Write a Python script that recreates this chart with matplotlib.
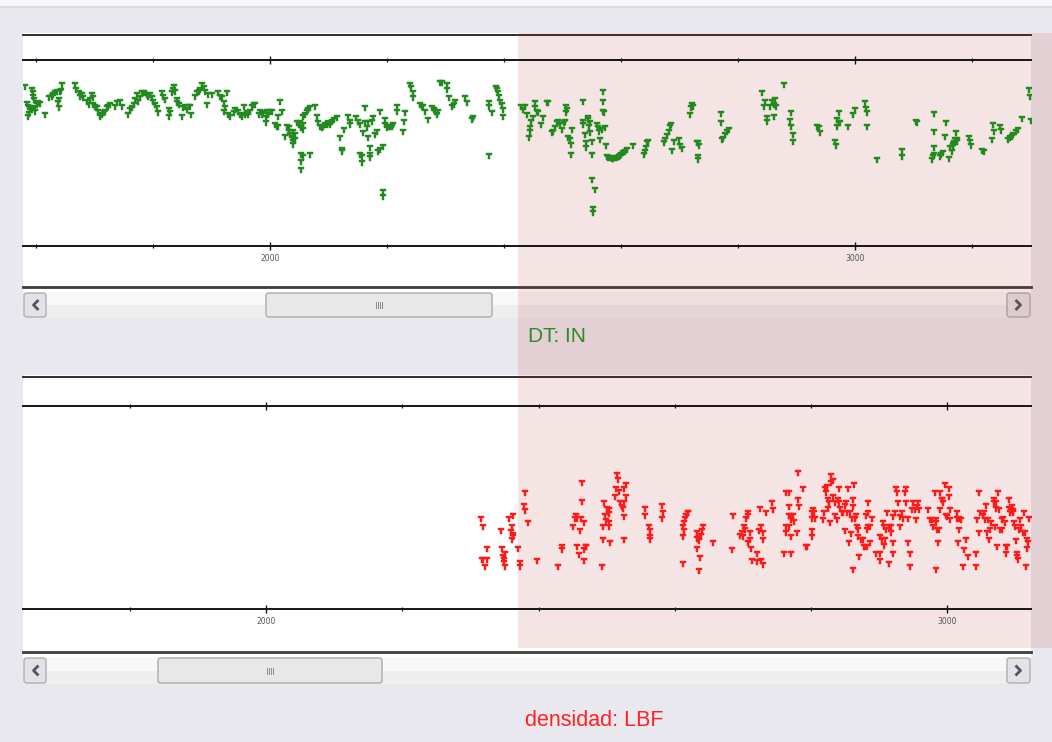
import matplotlib
matplotlib.use("Agg")
import matplotlib.pyplot as plt
from matplotlib.path import Path
from matplotlib.patches import Rectangle, FancyBboxPatch
from matplotlib.lines import Line2D
from matplotlib.ticker import MultipleLocator, NullFormatter, FormatStrFormatter

# ---------------- data ----------------
# upper track: DT vs depth
dt_depth = [
    1582, 1593, 1595, 1595, 1596, 1584, 1587, 1590, 1586, 1589,
    1593, 1599, 1602, 1604, 1607, 1599, 1616, 1623, 1627, 1630,
    1633, 1636, 1639, 1641, 1644, 1643, 1639, 1637, 1667, 1669,
    1673, 1676, 1678, 1681, 1687, 1690, 1693, 1696, 1697, 1698,
    1701, 1704, 1707, 1710, 1713, 1716, 1718, 1721, 1724, 1727,
    1735, 1738, 1744, 1747, 1758, 1761, 1764, 1767, 1770, 1773,
    1775, 1778, 1781, 1784, 1790, 1792, 1795, 1798, 1801, 1804,
    1807, 1808, 1815, 1818, 1821, 1827, 1830, 1828, 1832, 1835,
    1836, 1838, 1841, 1842, 1844, 1849, 1852, 1855, 1858, 1861,
    1864, 1865, 1872, 1875, 1878, 1881, 1884, 1887, 1889, 1892,
    1895, 1901, 1912, 1915, 1918, 1921, 1924, 1926, 1921, 1929,
    1932, 1938, 1941, 1946, 1949, 1952, 1955, 1958, 1961, 1963,
    1966, 1969, 1972, 1975, 1981,
    1983, 1986, 1989, 1995, 1993, 1993, 1997, 2000, 2003, 2009,
    2012, 2014, 2014, 2018, 2020, 2026, 2029, 2032, 2033, 2034,
    2037, 2039, 2040, 2043, 2043, 2040, 2046, 2049, 2052, 2054,
    2057, 2057, 2057, 2060, 2063, 2066, 2069, 2054, 2054, 2054,
    2057, 2069, 2077, 2080, 2083, 2086, 2089, 2091, 2094, 2097,
    2100, 2103, 2106, 2109, 2114, 2120, 2123, 2124, 2126, 2134,
    2137, 2137, 2148, 2151, 2154, 2154, 2157, 2157, 2160, 2163,
    2163, 2166, 2168, 2168, 2171, 2171, 2171, 2174, 2177, 2180,
    2183, 2185, 2188, 2188, 2193, 2194, 2194, 2197, 2197, 2200,
    2203, 2205, 2208, 2211, 2217, 2217, 2227, 2229, 2231, 2240,
    2242, 2244, 2245, 2257, 2260, 2262, 2265, 2271, 2277, 2280,
    2282, 2285, 2288, 2291, 2294, 2302, 2302, 2307, 2311, 2314,
    2317, 2334, 2337, 2345, 2348,
    2375, 2375, 2380, 2375, 2386, 2389, 2390, 2392, 2394, 2396,
    2398, 2399, 2430, 2433, 2436, 2439, 2445, 2445, 2443, 2447,
    2450, 2453, 2453, 2456, 2459, 2464, 2467, 2473, 2476, 2482,
    2484, 2487, 2490, 2493, 2496, 2499, 2502, 2504, 2506, 2507,
    2508, 2510, 2513, 2514, 2516, 2514, 2536, 2536, 2536, 2539,
    2540, 2540, 2543, 2544, 2546, 2547, 2548, 2550, 2550, 2550,
    2556, 2553, 2553, 2559, 2561, 2563, 2564, 2567, 2570, 2570,
    2569, 2571, 2573, 2574, 2576, 2578, 2581, 2584, 2587, 2590,
    2593, 2596, 2598, 2601, 2604, 2607, 2610, 2621, 2639, 2641,
    2643, 2644, 2646, 2674, 2676, 2679, 2682, 2684, 2686, 2688,
    2690, 2699, 2701, 2704, 2718, 2720, 2721, 2723, 2730, 2732,
    2731, 2731, 2734, 2771, 2771, 2772, 2775, 2778, 2781, 2784,
    2842, 2846, 2844, 2849, 2850, 2855, 2859, 2861, 2863, 2862,
    2865,
    2879, 2891, 2889, 2891, 2894, 2894, 2935, 2938, 2940, 2966,
    2967, 2969, 2970, 2972, 2973, 2975, 2989, 2997, 3000, 3017,
    3019, 3020, 3020, 3037, 3080, 3081, 3105, 3106, 3131, 3133,
    3135, 3136, 3136, 3136, 3146, 3148, 3151, 3154, 3156, 3161,
    3163, 3166, 3167, 3168, 3170, 3171, 3173, 3174, 3175, 3195,
    3197, 3198, 3218, 3220, 3234, 3236, 3237, 3248, 3249, 3262,
    3265, 3268, 3271, 3276, 3278, 3285, 3298, 3300, 3301,
]
dt_value = [
    159, 156, 153, 149, 146, 142, 139, 138, 129, 132,
    136, 138, 141, 143, 142, 134, 131, 148, 149, 151,
    153, 154, 146, 154, 161, 155, 138, 143, 161, 156,
    153, 149, 151, 148, 144, 141, 146, 151, 148, 141,
    139, 138, 134, 129, 131, 133, 134, 138, 139, 141,
    139, 143, 144, 139, 131, 136, 138, 141, 146, 151,
    144, 148, 153, 153, 151, 149, 151, 148, 144, 141,
    138, 133, 153, 149, 146, 136, 133, 129, 153, 156,
    159, 154, 146, 143, 141, 129, 138, 139, 136, 139,
    139, 131, 149, 153, 154, 156, 161, 158, 154, 141,
    151, 151, 153, 149, 148, 143, 138, 153, 134, 131,
    129, 133, 136, 134, 131, 129, 139, 131, 133, 131,
    134, 139, 141, 141, 131,
    134, 131, 133, 134, 128, 123, 131, 134, 134, 121,
    119, 119, 129, 144, 134, 109, 119, 118, 114, 111,
    108, 104, 101, 111, 106, 114, 123, 121, 123, 118,
    116, 121, 129, 131, 134, 136, 138, 91, 84, 76,
    89, 91, 139, 129, 123, 119, 118, 119, 121, 121,
    123, 121, 124, 126, 128, 108, 96, 94, 116, 129,
    124, 121, 128, 124, 121, 91, 89, 83, 113, 138,
    123, 118, 123, 108, 98, 91, 88, 124, 128, 111,
    114, 94, 134, 96, 99, 54, 49, 126, 121, 118,
    119, 119, 119, 121, 139, 134, 114, 124, 133, 161,
    158, 153, 148, 141, 139, 139, 134, 126, 138, 136,
    134, 131, 134, 163, 163, 161, 156, 148, 139, 141,
    144, 148, 143, 126, 128,
    143, 139, 133, 90, 158, 156, 153, 149, 144, 141,
    136, 129, 139, 136, 139, 131, 118, 114, 108, 124,
    128, 143, 138, 134, 133, 121, 128, 143, 143, 113,
    114, 118, 123, 124, 121, 116, 123, 124, 139, 133,
    136, 108, 106, 101, 116, 91, 144, 124, 121, 111,
    103, 98, 128, 126, 119, 123, 113, 91, 104, 66,
    56, 37, 33, 121, 118, 114, 106, 116, 154, 144,
    134, 133, 118, 100, 89, 88, 88, 87, 87, 88,
    88, 89, 90, 91, 93, 94, 96, 100, 91, 94,
    98, 103, 104, 103, 106, 110, 114, 119, 121, 95,
    104, 106, 100, 97, 131, 138, 141, 139, 103, 103,
    89, 86, 100, 132, 123, 106, 107, 111, 114, 116,
    153, 144, 139, 128, 124, 139, 144, 141, 146, 129,
    139,
    161, 133, 125, 119, 111, 104, 119, 118, 113, 104,
    100, 126, 119, 123, 133, 123, 119, 131, 136, 143,
    137, 133, 119, 86, 95, 89, 124, 123, 86, 89,
    91, 98, 114, 132, 89, 91, 93, 109, 123, 87,
    98, 94, 99, 101, 103, 106, 113, 104, 106, 108,
    104, 100, 95, 94, 106, 121, 114, 119, 115, 106,
    108, 109, 111, 114, 116, 127, 156, 149, 125,
]

# lower track: densidad vs depth
dens_depth = [
    2315, 2318, 2324, 2319, 2317, 2322, 2324, 2345, 2347, 2348,
    2349, 2350, 2351, 2349, 2357, 2359, 2361, 2362, 2361, 2363,
    2362, 2370, 2372, 2372, 2379, 2380, 2380, 2384, 2398, 2428,
    2434, 2435, 2451, 2454, 2455, 2457, 2462, 2464, 2464, 2466,
    2461, 2457, 2460, 2466, 2469, 2470, 2466, 2493, 2494, 2495,
    2496, 2498, 2499, 2500, 2503, 2504, 2504, 2503, 2505, 2512,
    2514, 2515, 2516, 2518, 2520, 2522, 2524, 2525, 2526, 2528,
    2529, 2525, 2526, 2556, 2556, 2562, 2564, 2564, 2563, 2581,
    2583, 2581, 2612, 2613, 2614, 2615, 2617, 2619, 2620, 2612,
    2612, 2632, 2633, 2635, 2636, 2638, 2640, 2641, 2633, 2637,
    2635, 2656, 2684, 2685, 2696, 2699, 2700, 2701, 2703, 2705,
    2707, 2708, 2710, 2711, 2707, 2712, 2713, 2720, 2723, 2721,
    2725, 2727, 2730, 2729, 2727, 2729, 2734, 2742, 2744, 2760,
    2770, 2764, 2767, 2767, 2768, 2771, 2774, 2775, 2770, 2764,
    2768, 2764, 2770, 2779, 2781, 2783, 2781, 2788, 2793, 2794,
    2801, 2802, 2803, 2804, 2806, 2802, 2802, 2817, 2819, 2820,
    2822, 2823, 2825, 2825, 2827, 2828, 2829, 2830, 2832, 2833,
    2835, 2835, 2838, 2840, 2841, 2841, 2842, 2845, 2847, 2850,
    2851, 2853, 2855, 2857, 2860, 2861, 2863, 2862, 2850, 2856,
    2858, 2861, 2864, 2866, 2868, 2869, 2871, 2869, 2873, 2876,
    2878, 2879, 2882, 2882, 2884, 2887, 2883, 2881, 2884, 2889,
    2887, 2895, 2901, 2902, 2904, 2905, 2907, 2907, 2909, 2902,
    2910, 2911, 2915, 2917, 2918, 2915, 2920, 2921, 2921, 2923,
    2925, 2926, 2927, 2930, 2931, 2933, 2935, 2938, 2940, 2939,
    2943, 2943, 2945, 2945, 2948, 2950, 2953, 2954, 2955, 2957,
    2959, 2972, 2974, 2977, 2979, 2982, 2983, 2984, 2985, 2987,
    2984, 2988, 2989, 2990, 2992, 2993, 2994, 2997, 2998, 3000,
    3003, 3002, 3004, 3004, 3014, 3015, 3016, 3018, 3020, 3018,
    3023, 3025, 3027, 3031, 3042, 3042, 3043, 3046, 3046, 3048,
    3052, 3054, 3055, 3057, 3058, 3060, 3062, 3063, 3065, 3068,
    3069, 3070, 3071, 3072, 3073, 3075, 3076, 3078, 3080, 3081,
    3082, 3085, 3086, 3087, 3088, 3090, 3091, 3092, 3093, 3095,
    3096, 3097, 3098, 3099, 3101, 3102, 3103, 3104, 3106, 3107,
    3108, 3111, 3113, 3114, 3116, 3117, 3117, 3119, 3120,
]
dens_value = [
    90, 82, 60, 49, 49, 42, 49, 78, 60, 52,
    49, 42, 55, 46, 90, 77, 82, 74, 69, 93,
    72, 60, 46, 42, 103, 116, 98, 86, 48, 42,
    62, 59, 82, 90, 93, 90, 90, 107, 126, 86,
    78, 62, 54, 59, 62, 62, 48, 42, 69, 82,
    106, 93, 88, 100, 99, 95, 82, 86, 66, 112,
    120, 134, 129, 117, 106, 102, 100, 106, 120, 112,
    124, 69, 92, 100, 93, 82, 78, 72, 69, 103,
    96, 90, 82, 78, 86, 90, 93, 96, 96, 72,
    45, 76, 70, 72, 68, 73, 78, 82, 60, 51,
    38, 66, 59, 93, 73, 76, 72, 82, 79, 90,
    93, 96, 76, 69, 66, 60, 48, 55, 78, 47,
    100, 82, 76, 69, 48, 44, 96, 106, 99, 55,
    55, 116, 116, 102, 93, 93, 93, 87, 89, 82,
    82, 76, 72, 76, 109, 102, 136, 120, 62, 62,
    96, 90, 99, 96, 90, 78, 72, 89, 96, 120,
    116, 122, 100, 109, 106, 86, 126, 133, 128, 112,
    106, 93, 89, 109, 106, 120, 100, 96, 96, 103,
    106, 96, 120, 96, 90, 109, 124, 102, 78, 66,
    75, 39, 90, 93, 82, 79, 52, 72, 69, 69,
    62, 62, 62, 79, 82, 82, 96, 93, 106, 90,
    66, 55, 72, 55, 69, 86, 82, 63, 69, 48,
    79, 96, 82, 76, 82, 45, 66, 55, 92, 96,
    120, 116, 106, 92, 82, 96, 90, 116, 120, 106,
    90, 66, 55, 42, 99, 106, 99, 89, 102, 106,
    99, 99, 89, 89, 82, 116, 89, 86, 79, 66,
    39, 79, 116, 99, 109, 109, 106, 124, 93, 92,
    120, 112, 99, 89, 96, 90, 66, 90, 89, 79,
    42, 59, 69, 52, 55, 42, 89, 116, 76, 96,
    93, 96, 89, 103, 76, 89, 69, 79, 86, 106,
    109, 82, 100, 106, 62, 116, 99, 79, 89, 79,
    90, 86, 55, 62, 62, 109, 100, 96, 99, 102,
    98, 96, 86, 82, 68, 55, 52, 49, 79, 89,
    82, 76, 96, 76, 42, 69, 60, 66, 90,
]

top_title = "DT: IN"
bottom_title = "densidad: LBF"
top_xlim = (1578, 3301)
bot_xlim = (1643, 3123)
top_ylim = (0, 186)
bot_ylim = (0, 203)

# ---------------- figure / helpers ----------------
W, H = 1052, 742
fig = plt.figure(figsize=(W / 100, H / 100), dpi=100, facecolor="#e9e8ee")


def fx(px):
    return px / W


def fy(py):
    return 1 - py / H


def rect(x0, y0, x1, y1, **kw):
    p = Rectangle((fx(x0), fy(y1)), (x1 - x0) / W, (y1 - y0) / H,
                  transform=fig.transFigure, linewidth=0, **kw)
    fig.add_artist(p)
    return p


def hline(py, x0, x1, **kw):
    fig.add_artist(Line2D([fx(x0), fx(x1)], [fy(py), fy(py)],
                          transform=fig.transFigure, **kw))


def button(x0, y0, x1, y1, fc, ec, z):
    p = FancyBboxPatch((fx(x0), fy(y1)), (x1 - x0) / W, (y1 - y0) / H,
                       boxstyle="round,pad=0,rounding_size=0.003",
                       transform=fig.transFigure, fc=fc, ec=ec, lw=0.9,
                       zorder=z)
    fig.add_artist(p)


def scrollbar(y0, y1, t0, t1):
    yc = (y0 + y1) / 2
    rect(23, y0, 1031, y1, fc="#eeeeee", zorder=-9)
    rect(23, y0, 1031, yc, fc="#f8f8f8", zorder=-9)
    for a, b in [(24, 46), (1007, 1030)]:
        button(a, y0 + 1, b, y1 - 1, "#e3e3e5", "#a9a9ad", -8)
    button(t0, y0 + 1, t1, y1 - 1, "#e8e8e8", "#a3a3a3", -8)
    for k in range(4):
        xx = (t0 + t1) / 2 - 3 + 2 * k
        fig.add_artist(Line2D([fx(xx), fx(xx)], [fy(yc - 3), fy(yc + 3)],
                              transform=fig.transFigure, color="#8c8c8c",
                              lw=0.7, zorder=-7))
    # arrows
    fig.add_artist(Line2D([fx(37.5), fx(33.5), fx(37.5)],
                          [fy(yc - 4), fy(yc), fy(yc + 4)],
                          transform=fig.transFigure, color="#4b5868",
                          lw=2.0, zorder=-7))
    fig.add_artist(Line2D([fx(1016.5), fx(1020.5), fx(1016.5)],
                          [fy(yc - 4), fy(yc), fy(yc + 4)],
                          transform=fig.transFigure, color="#4b5868",
                          lw=2.0, zorder=-7))


# window top strip
rect(0, 0, W, 6, fc="#f6f6f8", zorder=-10)
rect(0, 6, W, 8, fc="#d9d9de", zorder=-10)

# white panels
rect(23, 33, 1031, 318, fc="white", zorder=-10)
rect(23, 375, 1031, 684, fc="white", zorder=-10)

scrollbar(292, 318, 266, 492)
scrollbar(657, 684, 158, 382)

# panel frame lines
hline(35, 23, 1031, color="#1e1e1e", lw=1.3, zorder=-7)
hline(287, 23, 1031, color="#3c3c3c", lw=2.0, zorder=-7)
hline(377, 23, 1031, color="#1e1e1e", lw=1.3, zorder=-7)
hline(652, 23, 1031, color="#3c3c3c", lw=2.0, zorder=-7)

# translucent selection band
rect(518, 33, W, 648, fc="#b42828", alpha=0.12, zorder=-6)

# marker: "T" pin
tee = Path([(-1, 1), (1, 1), (1, 0.35), (0.22, 0.35), (0.22, -1),
            (-0.22, -1), (-0.22, 0.35), (-1, 0.35), (-1, 1)],
           [Path.MOVETO] + [Path.LINETO] * 7 + [Path.CLOSEPOLY])


def make_axes(py_top, py_bot, xlim, ylim):
    ax = fig.add_axes([fx(23), fy(py_bot), (1031 - 23) / W,
                       (py_bot - py_top) / H])
    ax.set_facecolor("none")
    ax.set_xlim(*xlim)
    ax.set_ylim(*ylim)
    ax.set_yticks([])
    for s in ("left", "right"):
        ax.spines[s].set_visible(False)
    for s in ("top", "bottom"):
        ax.spines[s].set_color("#151515")
        ax.spines[s].set_linewidth(1.4)
    ax.xaxis.set_major_locator(MultipleLocator(1000))
    ax.xaxis.set_minor_locator(MultipleLocator(200))
    ax.xaxis.set_major_formatter(FormatStrFormatter("%d"))
    ax.xaxis.set_minor_formatter(NullFormatter())
    ax.tick_params(axis="x", which="major", direction="inout", length=6,
                   width=1.0, color="#151515", labelsize=5.5,
                   labelcolor="#555555", pad=3, top=True)
    ax.tick_params(axis="x", which="minor", direction="inout", length=3.5,
                   width=0.9, color="#151515", top=True)
    return ax


ax1 = make_axes(60, 246, top_xlim, top_ylim)
ax1.plot(dt_depth, dt_value, linestyle="none", marker=tee, ms=4.6,
         color="#238a1f", mec="#238a1f", mew=0.3, clip_on=True)

ax2 = make_axes(406, 609, bot_xlim, bot_ylim)
ax2.plot(dens_depth, dens_value, linestyle="none", marker=tee, ms=4.6,
         color="#ff1a1a", mec="#ff1a1a", mew=0.3, clip_on=True)

fig.text(fx(557), fy(336), top_title, color="#2e8b25", fontsize=15,
         family="Liberation Sans", ha="center", va="center", zorder=5)
fig.text(fx(594.5), fy(721), bottom_title, color="#ff2222", fontsize=15.5,
         family="Liberation Sans", ha="center", va="center", zorder=5)

fig.savefig("out.png", dpi=100, facecolor=fig.get_facecolor())
